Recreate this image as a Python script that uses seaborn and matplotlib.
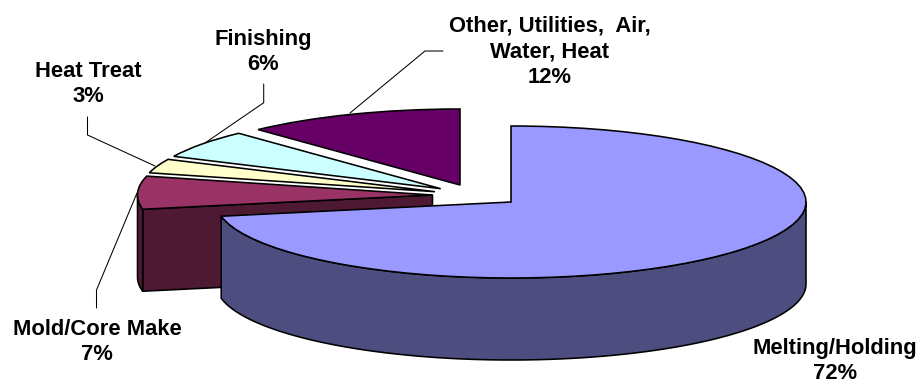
import numpy as np
import matplotlib
matplotlib.use("Agg")
import matplotlib.pyplot as plt
from matplotlib.transforms import Affine2D
import seaborn as sns

# Share of foundry energy use by process, clockwise from twelve o'clock
categories = ["Melting/Holding", "Mold/Core Make", "Heat Treat", "Finishing",
              "Other, Utilities,  Air,\nWater, Heat"]
shares = [72, 7, 3, 6, 12]
top_colors = ["#9999FF", "#993366", "#FFFFCC", "#CCFFFF", "#660066"]
side_colors = ["#4D4D80", "#4D1933", "#80806A", "#6A8080", "#330033"]

# Projection of the disc on the canvas (pixels, y downwards)
RADIUS_X, RADIUS_Y, DEPTH = 295.0, 76.0, 82.0
slice_anchors = [(511, 202), (432.5, 195), (435, 191.7), (440.7, 188.7), (460, 185)]
label_anchors = [(835, 361), (97, 342), (88, 84), (263, 52), (550, 52)]
leader_paths = [
    None,
    [(96.5, 308), (96.5, 290), (137, 193)],
    [(87.5, 117), (87.5, 135), (155, 166)],
    [(263.7, 84), (263.7, 102.7), (205, 143)],
    [(443, 51), (425, 51), (350, 113)],
]

sns.set_theme(style="white")
plt.rcParams["font.family"] = ["Liberation Sans", "DejaVu Sans"]

fig = plt.figure(figsize=(9.2, 3.84), dpi=100)
ax = fig.add_axes([0, 0, 1, 1])

palette = sns.color_palette(top_colors)
wedges, _ = ax.pie(
    shares, colors=palette, startangle=90, counterclock=False, radius=RADIUS_X,
    wedgeprops=dict(edgecolor="black", linewidth=1.15, joinstyle="miter"),
)
ax.set_aspect("auto")
ax.set_xlim(0, 920)
ax.set_ylim(384, 0)
ax.axis("off")


def rim(cx, cy, angles, drop=0.0):
    """Points on the projected rim; angles are clockwise from the top, in degrees."""
    t = np.radians(angles)
    return cx + RADIUS_X * np.sin(t), cy - RADIUS_Y * np.cos(t) + drop


edges = np.concatenate([[0], np.cumsum(shares)]) * 3.6
squash = RADIUS_Y / RADIUS_X
side_style = dict(edgecolor="black", linewidth=1.15, joinstyle="round")

# Painter's order: back slices first, the large front slice last
for order, i in enumerate([4, 3, 2, 1, 0]):
    cx, cy = slice_anchors[i]
    start, end = edges[i], edges[i + 1]
    base = 2 * order + 2

    # Radial cut face, visible when it looks towards the viewer
    if 90 < start < 270:
        ex, ey = rim(cx, cy, start)
        ax.fill([cx, ex, ex, cx], [cy, ey, ey + DEPTH, cy + DEPTH],
                facecolor=side_colors[i], zorder=base, **side_style)

    # Outer wall along the front half of the rim
    lo, hi = max(start, 90), min(end, 270)
    if lo < hi:
        ang = np.linspace(lo, hi, 160)
        x, y = rim(cx, cy, ang)
        xb, yb = rim(cx, cy, ang, DEPTH)
        ax.fill(np.r_[x, xb[::-1]], np.r_[y, yb[::-1]],
                facecolor=side_colors[i], zorder=base + 0.5, **side_style)

    wedges[i].set_transform(Affine2D().scale(1, -squash).translate(cx, cy) + ax.transData)
    wedges[i].set_zorder(base + 1)

# Category labels with their percentages and leader lines
for name, share, (lx, ly), path in zip(categories, shares, label_anchors, leader_paths):
    ax.text(lx, ly, f"{name}\n{share}%", ha="center", va="center", fontsize=15.8,
            fontweight="bold", color="black", linespacing=1.31, zorder=20)
    if path is not None:
        px, py = zip(*path)
        ax.plot(px, py, color="black", linewidth=0.75, zorder=1,
                solid_joinstyle="miter")

fig.savefig("out.png", dpi=100, facecolor="white")
